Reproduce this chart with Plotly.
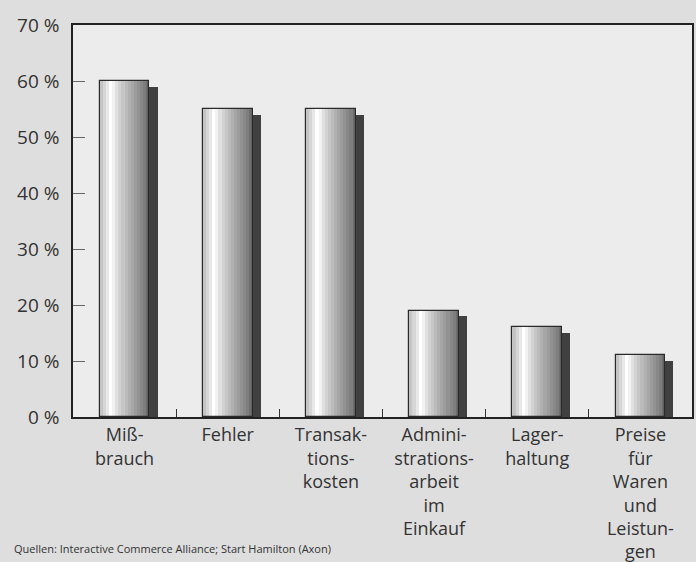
import plotly.graph_objects as go

categories = ["Miß-<br>brauch", "Fehler", "Transak-<br>tions-<br>kosten",
              "Admini-<br>strations-<br>arbeit<br>im<br>Einkauf", "Lager-<br>haltung",
              "Preise<br>für<br>Waren<br>und<br>Leistun-<br>gen"]
values = [60, 55, 55, 19, 16, 11]
shadow_values = [59, 54, 54, 18, 15, 10]
source_text = "Quellen: Interactive Commerce Alliance; Start Hamilton (Axon)"

stripe_colors = ["#c4c4c4", "#d6d6d6", "#e8e8e8", "#ffffff", "#f2f2f2", "#e0e0e0",
                 "#d2d2d2", "#c6c6c6", "#bbbbbb", "#b0b0b0", "#a6a6a6", "#9c9c9c",
                 "#929292", "#888888", "#7e7e7e", "#6e6e6e"]

FONT = "'Open Sans', Lato, sans-serif"
bar_w = 0.48
left = -bar_w / 2
sw = bar_w / len(stripe_colors)

fig = go.Figure()
# shadow
fig.add_trace(go.Bar(x=categories, y=shadow_values, width=0.08, offset=left + bar_w,
                     marker=dict(color="#404040", line=dict(width=0)), hoverinfo="skip"))
for i, c in enumerate(stripe_colors):
    fig.add_trace(go.Bar(x=categories, y=values, width=sw * 1.02, offset=left + i * sw,
                         marker=dict(color=c, line=dict(width=0)), hoverinfo="skip"))
# outline
fig.add_trace(go.Bar(x=categories, y=values, width=bar_w, offset=left,
                     marker=dict(color="rgba(0,0,0,0)", line=dict(width=1.2, color="#2a2a2a")),
                     hoverinfo="skip"))

fig.update_layout(
    width=696, height=562,
    barmode="overlay", bargap=0,
    showlegend=False,
    paper_bgcolor="#dedede", plot_bgcolor="#ececec",
    margin=dict(l=73, r=4, t=25, b=145),
    font=dict(family=FONT, color="#333333", size=18),
    hovermode=False,
)
fig.update_xaxes(
    type="category", tickson="boundaries", ticks="inside", ticklen=8, tickcolor="#333",
    showline=True, linecolor="#222", linewidth=1.5, mirror=True,
    showgrid=False, ticklabelstandoff=1, automargin=False,
    tickfont=dict(size=18, family=FONT, color="#333"),
)
fig.update_yaxes(
    range=[0, 70], dtick=10, ticksuffix=" %", ticks="inside", ticklen=12, tickcolor="#666",
    showline=True, linecolor="#222", linewidth=1.5, mirror=True,
    showgrid=False, zeroline=False, ticklabelstandoff=8, automargin=False,
    tickfont=dict(size=19, family=FONT, color="#333"),
)
fig.add_annotation(text=source_text, xref="paper", yref="paper", x=-61/619, y=-(548-417)/392,
                   xanchor="left", yanchor="middle", showarrow=False,
                   font=dict(size=11, family=FONT, color="#333"))
fig.write_html("out.html", config={"displayModeBar": False},
               post_script="document.body.style.margin='0';document.body.style.overflow='hidden';document.body.style.background='#dedede';")
